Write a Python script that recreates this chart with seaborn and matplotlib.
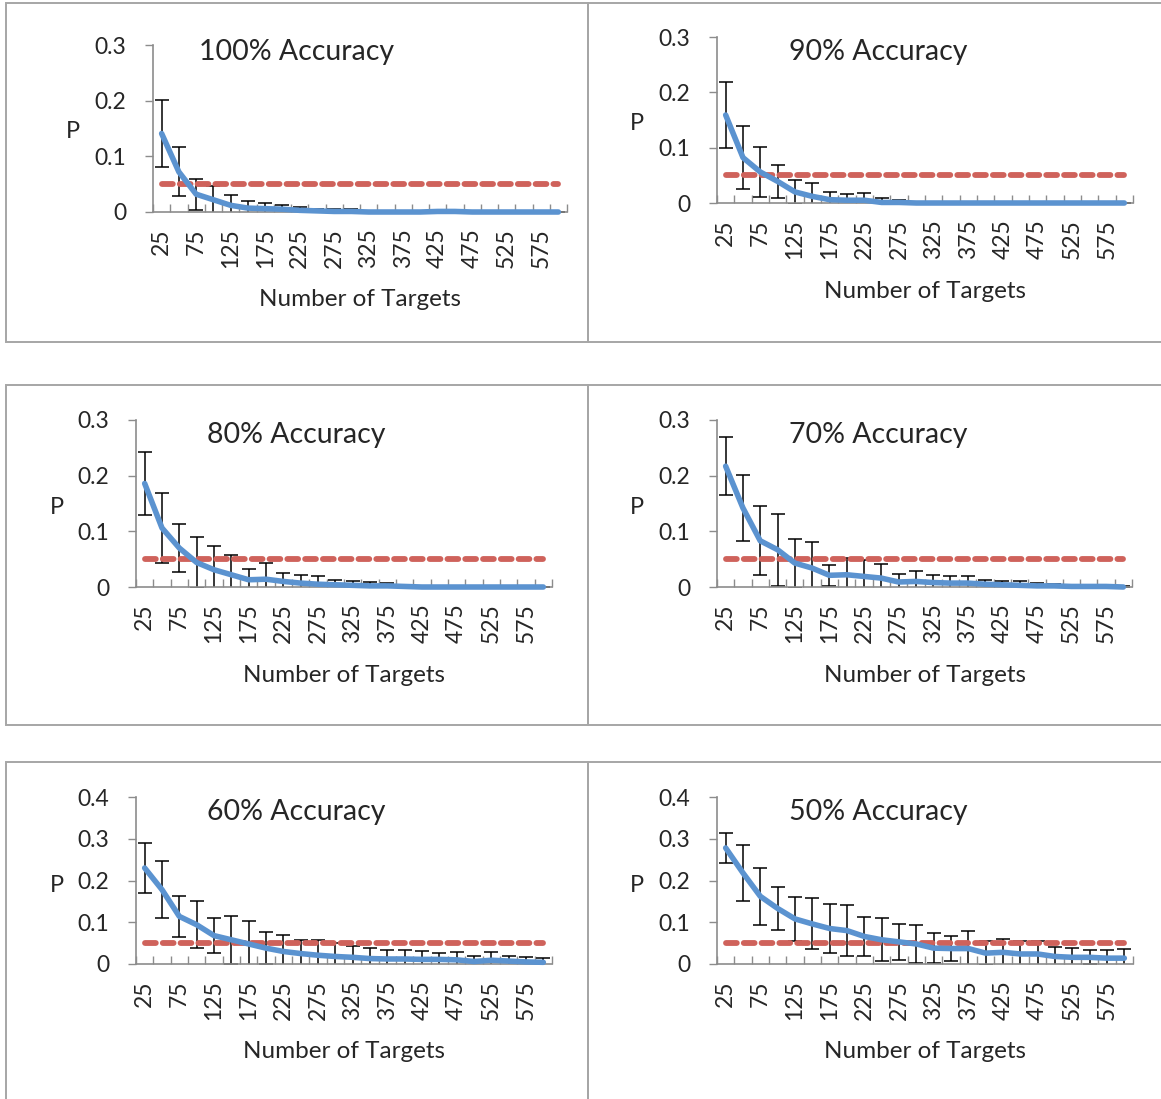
import numpy as np
import pandas as pd
import matplotlib
matplotlib.use("Agg")
import matplotlib.pyplot as plt
from matplotlib.patches import Rectangle
from matplotlib.ticker import FixedLocator, FuncFormatter
import seaborn as sns

sns.set_style("white")
plt.rcParams['font.family'] = ['Lato', 'DejaVu Sans']

# ---------------- data ----------------
targets = [25, 50, 75, 100, 125, 150, 175, 200, 225, 250, 275, 300,
           325, 350, 375, 400, 425, 450, 475, 500, 525, 550, 575, 600]

titles = ["100% Accuracy", "90% Accuracy", "80% Accuracy",
          "70% Accuracy", "60% Accuracy", "50% Accuracy"]

p_acc100 = [0.141, 0.072, 0.032, 0.022, 0.012, 0.007, 0.006, 0.005, 0.003, 0.002, 0.001, 0.001,
            0.000, 0.000, 0.000, 0.000, 0.001, 0.001, 0.000, 0.000, 0.000, 0.000, 0.000, 0.000]
e_acc100 = [0.060, 0.044, 0.028, 0.025, 0.019, 0.012, 0.010, 0.008, 0.006, 0.004, 0.004, 0.004,
            0.002, 0.001, 0.001, 0.001, 0.001, 0.001, 0.001, 0.000, 0.000, 0.000, 0.000, 0.000]

p_acc90 = [0.159, 0.082, 0.056, 0.039, 0.020, 0.012, 0.006, 0.005, 0.005, 0.001, 0.001, 0.000,
           0.000, 0.000, 0.000, 0.000, 0.000, 0.000, 0.000, 0.000, 0.000, 0.000, 0.000, 0.000]
e_acc90 = [0.059, 0.057, 0.046, 0.030, 0.022, 0.025, 0.013, 0.012, 0.013, 0.008, 0.005, 0.002,
           0.001, 0.000, 0.000, 0.000, 0.000, 0.000, 0.000, 0.000, 0.000, 0.000, 0.000, 0.000]

p_acc80 = [0.186, 0.106, 0.070, 0.044, 0.031, 0.022, 0.013, 0.014, 0.010, 0.007, 0.005, 0.004,
           0.003, 0.002, 0.002, 0.001, 0.000, 0.000, 0.000, 0.000, 0.000, 0.000, 0.000, 0.000]
e_acc80 = [0.056, 0.062, 0.043, 0.046, 0.043, 0.035, 0.020, 0.029, 0.016, 0.014, 0.014, 0.009,
           0.007, 0.007, 0.005, 0.002, 0.001, 0.001, 0.000, 0.000, 0.000, 0.000, 0.000, 0.000]

p_acc70 = [0.217, 0.142, 0.083, 0.067, 0.043, 0.034, 0.021, 0.022, 0.019, 0.016, 0.009, 0.010,
           0.008, 0.007, 0.007, 0.005, 0.004, 0.003, 0.002, 0.002, 0.001, 0.001, 0.001, 0.000]
e_acc70 = [0.052, 0.060, 0.062, 0.065, 0.044, 0.047, 0.019, 0.030, 0.029, 0.026, 0.015, 0.019,
           0.013, 0.012, 0.013, 0.008, 0.007, 0.007, 0.005, 0.004, 0.003, 0.002, 0.002, 0.001]

p_acc60 = [0.230, 0.178, 0.114, 0.094, 0.068, 0.058, 0.048, 0.038, 0.030, 0.025, 0.021, 0.018,
           0.016, 0.013, 0.012, 0.012, 0.011, 0.011, 0.010, 0.006, 0.009, 0.007, 0.005, 0.004]
e_acc60 = [0.060, 0.068, 0.050, 0.056, 0.042, 0.058, 0.054, 0.039, 0.040, 0.032, 0.036, 0.032,
           0.026, 0.025, 0.021, 0.021, 0.019, 0.015, 0.018, 0.012, 0.019, 0.011, 0.011, 0.010]

p_acc50 = [0.278, 0.218, 0.162, 0.133, 0.108, 0.096, 0.085, 0.080, 0.066, 0.058, 0.053, 0.048,
           0.038, 0.037, 0.037, 0.026, 0.028, 0.024, 0.024, 0.018, 0.016, 0.016, 0.014, 0.014]
e_acc50 = [0.036, 0.068, 0.069, 0.051, 0.052, 0.061, 0.059, 0.061, 0.046, 0.052, 0.043, 0.046,
           0.036, 0.029, 0.043, 0.028, 0.032, 0.030, 0.030, 0.023, 0.022, 0.017, 0.019, 0.023]

threshold = 0.05
yticks_small = [0, 0.1, 0.2, 0.3]
yticks_large = [0, 0.1, 0.2, 0.3, 0.4]

means = [p_acc100, p_acc90, p_acc80, p_acc70, p_acc60, p_acc50]
errs = [e_acc100, e_acc90, e_acc80, e_acc70, e_acc60, e_acc50]
yticks_list = [yticks_small, yticks_small, yticks_small, yticks_small, yticks_large, yticks_large]

# ---------------- layout (pixels) ----------------
W, H = 1161, 1099
BLUE = "#5b93d0"
RED = "#cf625b"
GRAY = "#8c8c8c"
BOX = "#a6a6a6"

# axes rect: left, right, top, bottom (px)
rects = [(153, 567, 45, 212), (717, 1133, 37, 203),
         (136, 552, 420, 587), (717, 1132, 420, 587),
         (136, 552, 797, 964), (717, 1133, 797, 964)]
title_xy = [(297, 52), (878, 52), (296, 435), (878, 435), (296, 812), (878, 812)]
p_xy = [(73, 131), (637, 123), (57, 508), (637, 508), (57, 885), (637, 885)]
xl_xy = [(360, 299), (925, 292), (344, 675), (925, 675), (344, 1052), (925, 1052)]

boxes = [(6, 588, 3, 342), (588, 1170, 3, 342),
         (6, 588, 385, 725), (588, 1170, 385, 725),
         (6, 588, 762, 1110), (588, 1170, 762, 1110)]

fig = plt.figure(figsize=(W / 100, H / 100), dpi=100)
fig.patch.set_facecolor("white")

for (x0, x1, y0, y1) in boxes:
    fig.patches.append(Rectangle((x0 / W, 1 - y1 / H), (x1 - x0) / W, (y1 - y0) / H,
                                 transform=fig.transFigure, fill=False,
                                 edgecolor=BOX, linewidth=1.4, zorder=0))

pos = np.arange(len(targets))

for i in range(6):
    L, R, T, B = rects[i]
    ax = fig.add_axes([L / W, 1 - B / H, (R - L) / W, (B - T) / H])
    ax.set_facecolor("none")

    def to_ax(X, Y, L=L, R=R, T=T, B=B):
        return (X - L) / (R - L), (B - Y) / (B - T)

    df = pd.DataFrame({"pos": pos, "P": means[i], "err": errs[i],
                       "thr": [threshold] * len(targets)})

    ax.errorbar(df["pos"], df["P"], yerr=df["err"], fmt="none", ecolor="black",
                elinewidth=1.1, capsize=5, capthick=1.1, zorder=2)
    sns.lineplot(data=df, x="pos", y="thr", ax=ax, color=RED, linewidth=4.2,
                 dashes=False, zorder=3, clip_on=False)
    ax.lines[-1].set_linestyle((0, (1.85, 1.2)))
    ax.lines[-1].set_dash_capstyle("round")
    sns.lineplot(data=df, x="pos", y="P", ax=ax, color=BLUE, linewidth=4.0,
                 zorder=4, clip_on=False)
    ax.lines[-1].set_solid_joinstyle("round")
    ax.lines[-1].set_solid_capstyle("round")

    yt = yticks_list[i]
    ax.set_xlim(-0.5, len(targets) - 0.5)
    ax.set_ylim(0, yt[-1])
    ax.set_yticks(yt)
    ax.yaxis.set_major_formatter(FuncFormatter(lambda v, p: "0" if v == 0 else f"{v:.1f}"))
    ax.set_xticks(pos[::2])
    ax.set_xticklabels([str(t) for t in targets[::2]], rotation=90)
    ax.xaxis.set_minor_locator(FixedLocator(np.arange(-0.5, len(targets), 1.0)))

    ax.tick_params(axis="y", which="major", direction="out", length=6, width=1.0,
                   color=GRAY, pad=13, labelsize=16.5, left=True)
    ax.tick_params(axis="x", which="major", length=0, pad=12, labelsize=16.5, bottom=True)
    ax.tick_params(axis="x", which="minor", direction="in", length=6, width=1.0,
                   color=GRAY, bottom=True)

    for s in ["top", "right"]:
        ax.spines[s].set_visible(False)
    for s in ["left", "bottom"]:
        ax.spines[s].set_color(GRAY)
        ax.spines[s].set_linewidth(1.2)

    tx, ty = to_ax(*title_xy[i])
    ax.set_title(titles[i], x=tx, y=ty, pad=0, fontsize=20.5, va="center", ha="center")

    ax.set_ylabel("P", rotation=0, fontsize=17, va="center", ha="center")
    ax.yaxis.set_label_coords(*to_ax(*p_xy[i]))
    ax.set_xlabel("Number of Targets", fontsize=17.5, va="center", ha="center")
    ax.xaxis.set_label_coords(*to_ax(*xl_xy[i]))

fig.savefig("out.png", dpi=100, facecolor="white")
